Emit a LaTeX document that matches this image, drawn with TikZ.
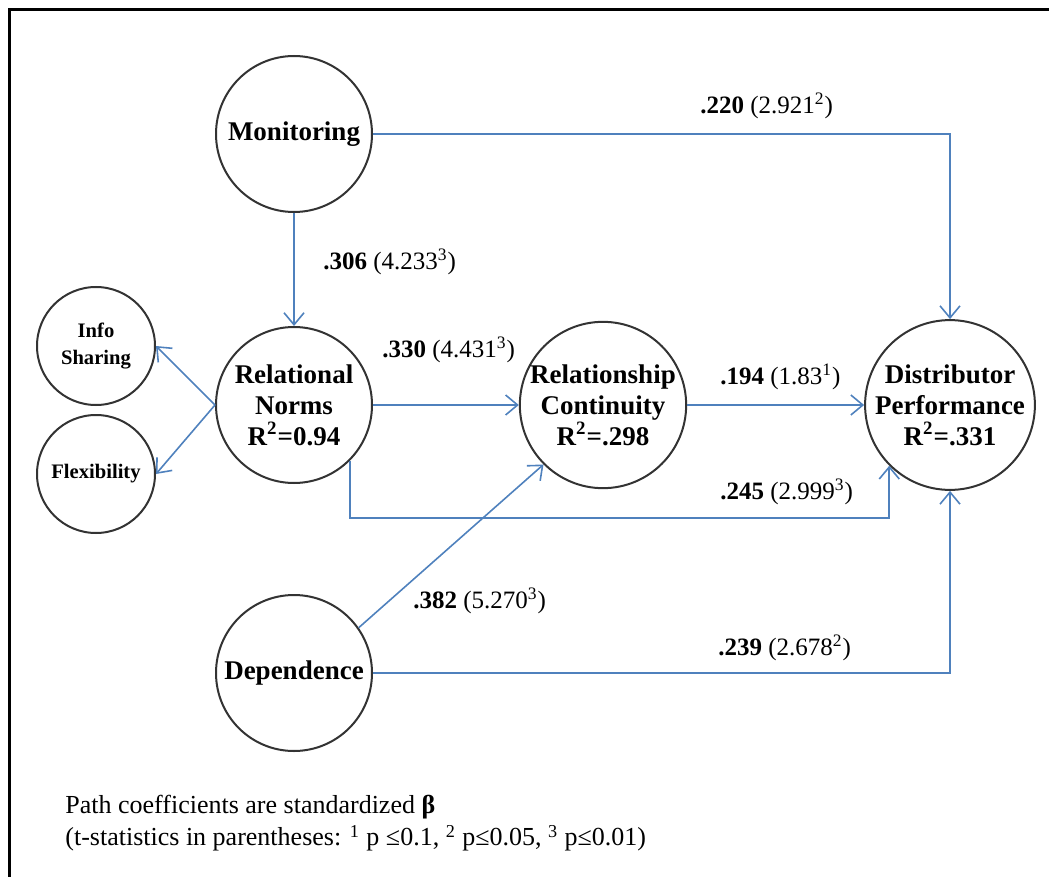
\documentclass[tikz,border=0pt]{standalone}
\usepackage{fontspec}
\setmainfont{Liberation Serif}
\usepackage{xcolor}
\usepackage{tikz}
\usetikzlibrary{arrows.meta, positioning}
\definecolor{pathblue}{RGB}{79,129,189}
\tikzstyle{arrow} = [line width=0.8pt, draw=pathblue, -{Straight Barb[length=6pt,width=10pt]}]

\begin{document}
\begin{tikzpicture}[x=0.5pt, y=-0.5pt]
	% Define styles for the constructs and the path labels
	\tikzstyle{construct} = [circle, draw=black!80, line width=1pt, minimum size=78pt, inner sep=0pt, align=center, font=\bfseries\fontsize{13.5}{15.5}\selectfont]
	\tikzstyle{facet} = [circle, draw=black!80, line width=1pt, minimum size=59pt, inner sep=0pt, align=center, font=\bfseries\fontsize{10.3}{13.5}\selectfont]
	\tikzstyle{coef} = [anchor=west, inner sep=0pt, font=\fontsize{12.5}{14}\selectfont]

	\useasboundingbox (0,0) rectangle (1049,877);

	% Outer frame (cut off at right and bottom)
	\draw[line width=1.5pt] (9,877) -- (9,10) -- (1049,10);

	% Constructs
	\node[construct] (mon) at (294,134) {Monitoring};
	\node[construct] (rn) at (294,405) {Relational\\Norms\\R\textsuperscript{2}=0.94};
	\node[construct] (rc) at (603,405) {Relationship\\Continuity\\R\textsuperscript{2}=.298};
	\node[construct] (dp) at (950,405) {Distributor\\Performance\\R\textsuperscript{2}=.331};
	\node[construct] (dep) at (294,673) {Dependence};

	% Facets of relational norms
	\node[facet] (info) at (96,346) {Info\\Sharing};
	\node[facet] (flex) at (96,474) {Flexibility};

	% Paths
	\coordinate (low) at (0,518);
	\draw[arrow] (mon.east) -| (dp.north);
	\draw[arrow] (mon.south) -- (rn.north);
	\draw[arrow] (rn.east) -- (rc.west);
	\draw[arrow] (rc.east) -- (dp.west);
	\draw[arrow] (rn.south east) -- (rn.south east |- low) -| (dp.south west);
	\draw[arrow] (dep.35) -- (rc.south west);
	\draw[arrow] (dep.east) -| (dp.south);
	\draw[arrow] (rn.west) -- (info.east);
	\draw[arrow] (rn.west) -- (flex.east);

	% Path coefficients
	\node[coef] (c220) at (700,106) {\textbf{.220} (2.921\textsuperscript{2})};
	\node[coef] (c306) at (323,262) {\textbf{.306} (4.233\textsuperscript{3})};
	\node[coef] (c330) at (382,350) {\textbf{.330} (4.431\textsuperscript{3})};
	\node[coef] (c194) at (720,377) {\textbf{.194} (1.83\textsuperscript{1})};
	\node[coef] (c245) at (720,492) {\textbf{.245} (2.999\textsuperscript{3})};
	\node[coef] (c382) at (413,601) {\textbf{.382} (5.270\textsuperscript{3})};
	\node[coef] (c239) at (718,648) {\textbf{.239} (2.678\textsuperscript{2})};

	% Note
	\node[anchor=north west, align=left, inner sep=0pt, font=\fontsize{13}{16}\selectfont] (note) at (65,795) {Path coefficients are standardized \textbf{β}\\(t-statistics in parentheses: \textsuperscript{1} p ≤0.1, \textsuperscript{2} p≤0.05, \textsuperscript{3} p≤0.01)};
\end{tikzpicture}
\end{document}
